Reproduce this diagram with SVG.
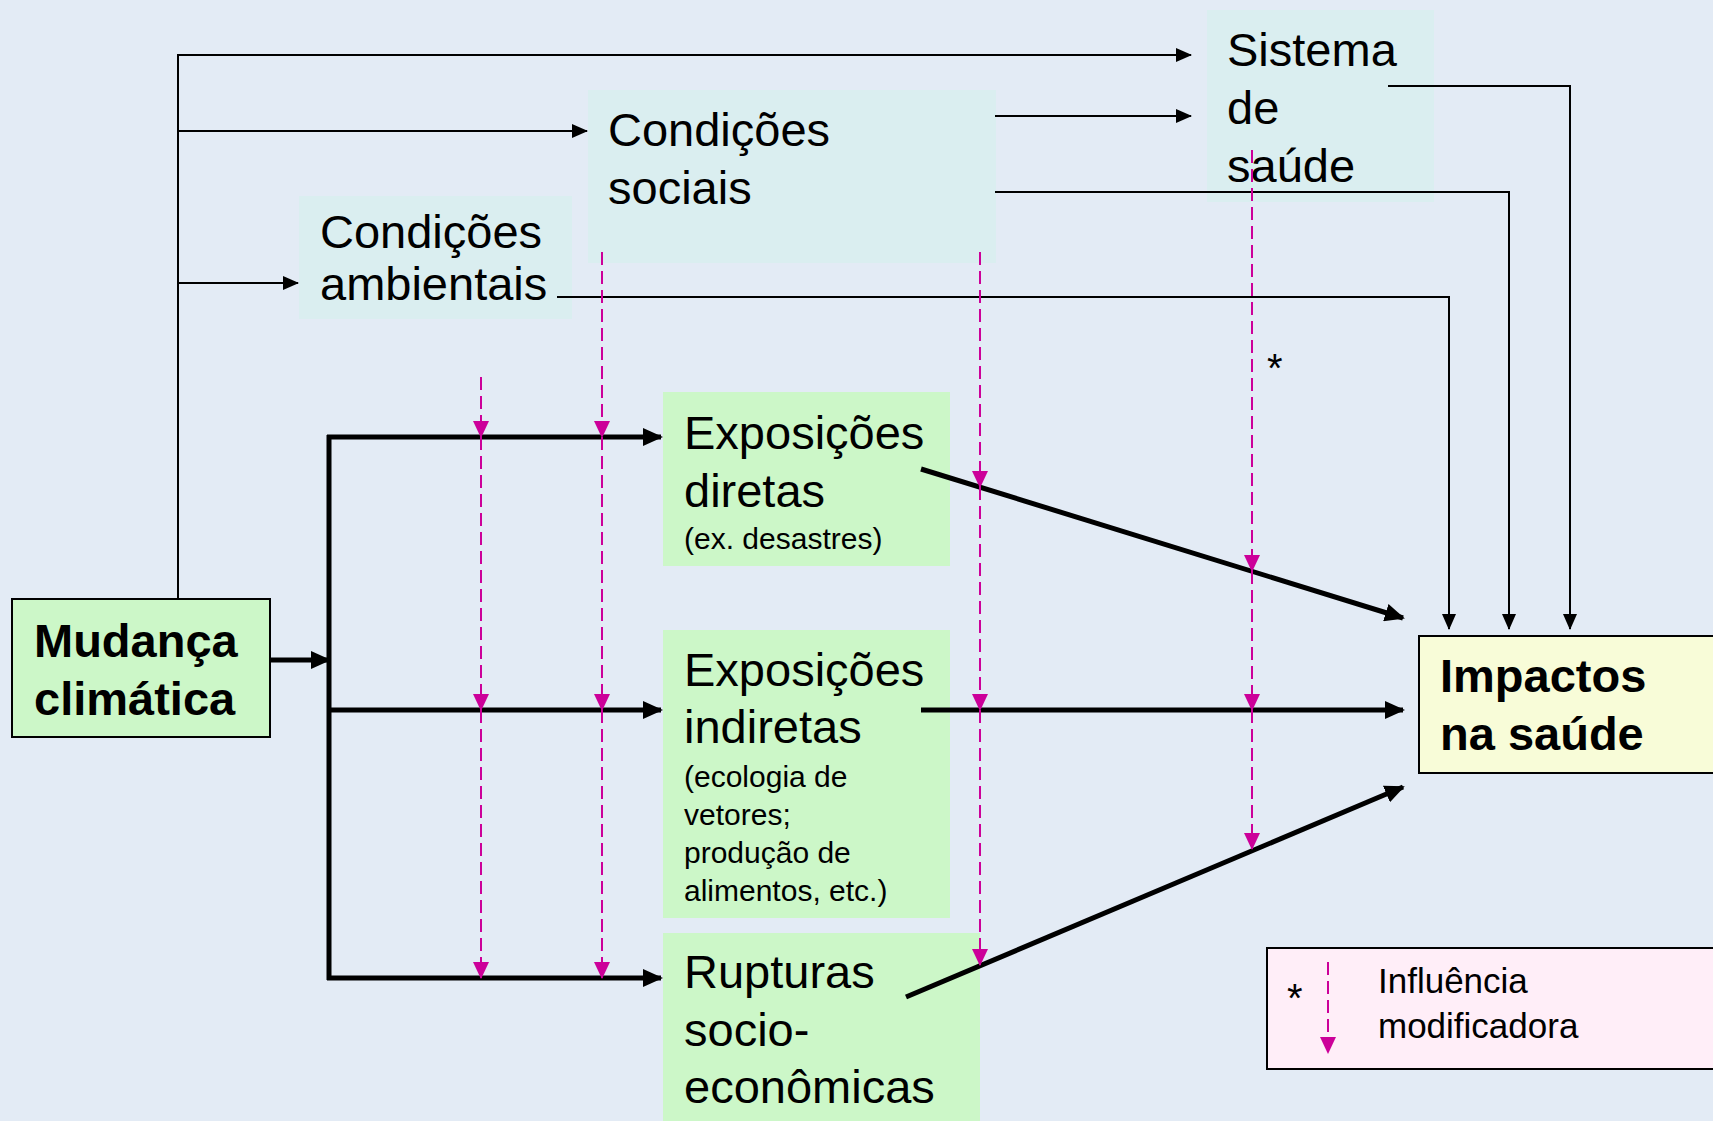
<svg xmlns="http://www.w3.org/2000/svg" width="1713" height="1121" viewBox="0 0 1713 1121">
<style>
text{font-family:"Liberation Sans",Arial,sans-serif;fill:#000}
.big{font-size:47px}
.bold{font-size:47px;font-weight:bold}
.small{font-size:30px}
.leg{font-size:35px}
.star{font-size:40px}
.thin{stroke:#000;stroke-width:2;fill:none}
.thick{stroke:#000;stroke-width:5;fill:none}
.mag{stroke:#cc0099;stroke-width:2;stroke-dasharray:13 6;fill:none}
.cond{fill:#daeef0}
.exp{fill:#ccf7c8}
</style>
<defs>
<marker id="at" markerUnits="userSpaceOnUse" markerWidth="16" markerHeight="14" refX="15" refY="7" orient="auto"><path d="M0,0 L16,7 L0,14 z" fill="#000"/></marker>
<marker id="ak" markerUnits="userSpaceOnUse" markerWidth="20" markerHeight="18" refX="18" refY="9" orient="auto"><path d="M0,0 L20,9 L0,18 z" fill="#000"/></marker>
<marker id="am" markerUnits="userSpaceOnUse" markerWidth="18" markerHeight="16" refX="16" refY="8" orient="auto"><path d="M0,0 L17,8 L0,16 z" fill="#cc0099"/></marker>
</defs>
<rect width="1713" height="1121" fill="#e3ebf5"/>

<g id="node-sistema"><rect class="cond" x="1207" y="10" width="227" height="192"/>
<text class="big" x="1227" y="66">Sistema</text><text class="big" x="1227" y="124">de</text><text class="big" x="1227" y="182">saúde</text></g>
<g id="node-sociais"><rect class="cond" x="588" y="90" width="408" height="173"/>
<text class="big" x="608" y="146">Condições</text><text class="big" x="608" y="204">sociais</text></g>
<g id="node-ambientais"><rect class="cond" x="299" y="196" width="273" height="123"/>
<text class="big" x="320" y="248">Condições</text><text class="big" x="320" y="300">ambientais</text></g>
<g id="node-mudanca"><rect x="12" y="599" width="258" height="138" fill="#ccf7c8" stroke="#000" stroke-width="2"/>
<text class="bold" x="34" y="657">Mudança</text><text class="bold" x="34" y="715">climática</text></g>
<g id="node-diretas"><rect class="exp" x="663" y="392" width="287" height="174"/>
<text class="big" x="684" y="449">Exposições</text><text class="big" x="684" y="507">diretas</text><text class="small" x="684" y="549">(ex. desastres)</text></g>
<g id="node-indiretas"><rect class="exp" x="663" y="630" width="287" height="288"/>
<text class="big" x="684" y="686">Exposições</text><text class="big" x="684" y="743">indiretas</text>
<text class="small" x="684" y="787">(ecologia de</text><text class="small" x="684" y="825">vetores;</text><text class="small" x="684" y="863">produção de</text><text class="small" x="684" y="901">alimentos, etc.)</text></g>
<g id="node-rupturas"><rect class="exp" x="663" y="933" width="317" height="195"/>
<text class="big" x="684" y="988">Rupturas</text><text class="big" x="684" y="1046">socio-</text><text class="big" x="684" y="1103">econômicas</text></g>
<g id="node-impactos"><rect x="1419" y="636" width="310" height="137" fill="#f8fcd8" stroke="#000" stroke-width="2"/>
<text class="bold" x="1440" y="692">Impactos</text><text class="bold" x="1440" y="750">na saúde</text></g>
<g id="legend"><rect x="1267" y="948" width="460" height="121" fill="#ffeef8" stroke="#000" stroke-width="2"/>
<text class="star" x="1287" y="1012">*</text>
<line class="mag" x1="1328" y1="962" x2="1328" y2="1053" marker-end="url(#am)"/>
<text class="leg" x="1378" y="993">Influência</text><text class="leg" x="1378" y="1038">modificadora</text></g>
<text class="star" x="1267" y="382">*</text>

<g id="connectors">
<line class="thin" x1="178" y1="599" x2="178" y2="55"/>
<line class="thin" x1="177" y1="55" x2="1191" y2="55" marker-end="url(#at)"/>
<line class="thin" x1="178" y1="131" x2="587" y2="131" marker-end="url(#at)"/>
<line class="thin" x1="178" y1="283" x2="298" y2="283" marker-end="url(#at)"/>
<line class="thin" x1="995" y1="116" x2="1191" y2="116" marker-end="url(#at)"/>
<polyline class="thin" points="1388,86 1570,86 1570,629" marker-end="url(#at)"/>
<polyline class="thin" points="995,192 1509,192 1509,629" marker-end="url(#at)"/>
<polyline class="thin" points="557,297 1449,297 1449,629" marker-end="url(#at)"/>

<line class="thick" x1="270" y1="660" x2="329" y2="660" marker-end="url(#ak)"/>
<line class="thick" x1="329" y1="435" x2="329" y2="980"/>
<line class="thick" x1="327" y1="437" x2="661" y2="437" marker-end="url(#ak)"/>
<line class="thick" x1="329" y1="710" x2="661" y2="710" marker-end="url(#ak)"/>
<line class="thick" x1="327" y1="978" x2="661" y2="978" marker-end="url(#ak)"/>
<line class="thick" x1="921" y1="469" x2="1403" y2="618" marker-end="url(#ak)"/>
<line class="thick" x1="921" y1="710" x2="1403" y2="710" marker-end="url(#ak)"/>
<line class="thick" x1="906" y1="997" x2="1403" y2="787" marker-end="url(#ak)"/>

<line class="mag" x1="481" y1="377" x2="481" y2="437" marker-end="url(#am)"/>
<line class="mag" x1="481" y1="437" x2="481" y2="710" marker-end="url(#am)"/>
<line class="mag" x1="481" y1="710" x2="481" y2="978" marker-end="url(#am)"/>
<line class="mag" x1="602" y1="252" x2="602" y2="437" marker-end="url(#am)"/>
<line class="mag" x1="602" y1="437" x2="602" y2="710" marker-end="url(#am)"/>
<line class="mag" x1="602" y1="710" x2="602" y2="978" marker-end="url(#am)"/>
<line class="mag" x1="980" y1="252" x2="980" y2="487" marker-end="url(#am)"/>
<line class="mag" x1="980" y1="487" x2="980" y2="710" marker-end="url(#am)"/>
<line class="mag" x1="980" y1="710" x2="980" y2="965" marker-end="url(#am)"/>
<line class="mag" x1="1252" y1="150" x2="1252" y2="571" marker-end="url(#am)"/>
<line class="mag" x1="1252" y1="571" x2="1252" y2="710" marker-end="url(#am)"/>
<line class="mag" x1="1252" y1="710" x2="1252" y2="849" marker-end="url(#am)"/>
</g>
</svg>
